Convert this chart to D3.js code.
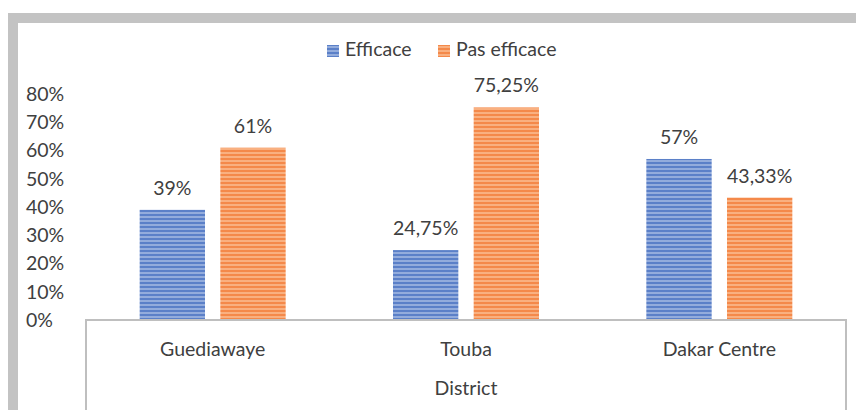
<!DOCTYPE html>
<meta charset="utf-8">
<style>
body { margin: 0; background: #fff; }
text { font-family: Lato, "Open Sans", sans-serif; fill: #404040; font-size: 19.5px; }
</style>
<body>
<script src="https://cdn.jsdelivr.net/npm/d3@7"></script>
<script>

var districts = ["Guediawaye", "Touba", "Dakar Centre"];
var efficace = [39, 24.75, 57];
var pasEfficace = [61, 75.25, 43.33];
var seriesNames = ["Efficace", "Pas efficace"];
var yTicks = [0, 10, 20, 30, 40, 50, 60, 70, 80];
var valueLabels = [["39%", "24,75%", "57%"], ["61%", "75,25%", "43,33%"]];

var W = 856, H = 410;
var margin = {top: 94, right: 10, bottom: 90, left: 86},
    width = 846 - margin.left,
    height = 320 - margin.top;

var svg = d3.select("body").append("svg")
    .attr("width", W)
    .attr("height", H);

// stripe patterns, like the excel fill
var defs = svg.append("defs");
var pal = [{id: "pBlue", base: "#5b80c8", light: "#93acdc"},
           {id: "pOrange", base: "#f4894a", light: "#f9b080"}];
pal.forEach(function(p) {
  var pat = defs.append("pattern")
      .attr("id", p.id)
      .attr("patternUnits", "userSpaceOnUse")
      .attr("width", 4).attr("height", 4);
  pat.append("rect").attr("width", 4).attr("height", 4).attr("fill", p.base);
  pat.append("rect").attr("y", 2).attr("width", 4).attr("height", 2).attr("fill", p.light);
});

// grey frame
svg.append("rect").attr("x", 8).attr("y", 13).attr("width", W - 8).attr("height", 10).attr("fill", "#c3c3c3");
svg.append("rect").attr("x", 8).attr("y", 13).attr("width", 10).attr("height", H - 13).attr("fill", "#c3c3c3");

var g = svg.append("g")
    .attr("transform", "translate(" + margin.left + "," + margin.top + ")");

var y = d3.scaleLinear()
    .domain([0, 80])
    .range([height, 0]);

var x0 = d3.scaleBand()
    .domain(districts)
    .range([0, width]);

var x1 = d3.scaleBand()
    .domain([0, 1])
    .range([0, 146])
    .paddingInner(0.19);

// y tick labels
g.selectAll(".ylab")
  .data(yTicks)
  .enter().append("text")
    .attr("class", "ylab")
    .attr("x", -60)
    .attr("y", function(d) { return y(d); })
    .attr("dy", "0.35em")
    .attr("text-anchor", "start")
    .text(function(d) { return d + "%"; });

var series = [efficace, pasEfficace];
var fills = ["url(#pBlue)", "url(#pOrange)"];

series.forEach(function(vals, s) {
  var bars = g.selectAll(".bar" + s)
    .data(districts)
    .enter();
  bars.append("rect")
    .attr("x", function(d) { return x0(d) + x0.bandwidth() / 2 - 73 + x1(s); })
    .attr("y", function(d, i) { return y(vals[i]); })
    .attr("width", x1.bandwidth())
    .attr("height", function(d, i) { return height - y(vals[i]); })
    .attr("fill", fills[s]);
  bars.append("text")
    .attr("x", function(d) { return x0(d) + x0.bandwidth() / 2 - 73 + x1(s) + x1.bandwidth() / 2; })
    .attr("y", function(d, i) { return y(vals[i]) - 15; })
    .attr("text-anchor", "middle")
    .text(function(d, i) { return valueLabels[s][i]; });
});

// axis lines
var axisCol = "#bfbfbf";
g.append("path")
    .attr("d", "M0," + (H - margin.top) + "V" + height + "H" + width + "V" + (H - margin.top))
    .attr("fill", "none")
    .attr("stroke", axisCol)
    .attr("stroke-width", 2);

g.selectAll(".xlab")
  .data(districts)
  .enter().append("text")
    .attr("x", function(d) { return x0(d) + x0.bandwidth() / 2; })
    .attr("y", height + 29)
    .attr("dy", "0.35em")
    .attr("text-anchor", "middle")
    .text(function(d) { return d; });

g.append("text")
    .attr("x", width / 2)
    .attr("y", height + 68)
    .attr("dy", "0.35em")
    .attr("text-anchor", "middle")
    .text("District");

// legend
var legend = svg.append("g");
var legX = [327, 438];
seriesNames.forEach(function(n, i) {
  legend.append("rect")
    .attr("x", legX[i]).attr("y", 45)
    .attr("width", 12).attr("height", 12)
    .attr("fill", fills[i]);
  legend.append("text")
    .attr("x", legX[i] + 18).attr("y", 49)
    .attr("dy", "0.35em")
    .text(n);
});

</script>
